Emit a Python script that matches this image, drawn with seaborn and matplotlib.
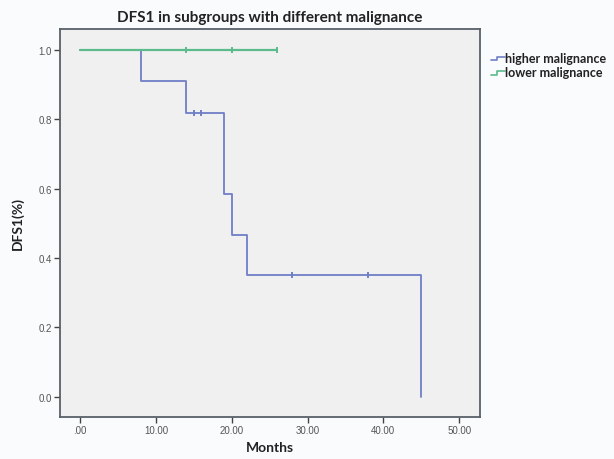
import numpy as np
import pandas as pd
import matplotlib
matplotlib.use("Agg")
import matplotlib.pyplot as plt
import seaborn as sns
from matplotlib.legend_handler import HandlerBase
from matplotlib.lines import Line2D

# ---- data ----
high_time = [0, 8, 14, 19, 20, 22, 45]
high_surv = [1.0, 0.909, 0.818, 0.584, 0.467, 0.350, 0.0]
high_cens_time = [15, 16, 28, 38]
high_cens_surv = [0.818, 0.818, 0.350, 0.350]

low_time = [0, 26]
low_surv = [1.0, 1.0]
low_cens_time = [14, 20, 26]
low_cens_surv = [1.0, 1.0, 1.0]

x_ticks = [0, 10, 20, 30, 40, 50]
x_tick_labels = [".00", "10.00", "20.00", "30.00", "40.00", "50.00"]
y_ticks = [0.0, 0.2, 0.4, 0.6, 0.8, 1.0]
y_tick_labels = ["0.0", "0.2", "0.4", "0.6", "0.8", "1.0"]

groups = ["higher malignance", "lower malignance"]
colors = {"higher malignance": "#6f7fc6", "lower malignance": "#5cba8c"}

sns.set_theme(style="white")
plt.rcParams["font.family"] = ["Lato", "DejaVu Sans"]

fig = plt.figure(figsize=(6.14, 4.6), dpi=100)
fig.patch.set_facecolor("#fafbfd")
ax = fig.add_axes([60 / 614, 1 - 418 / 460, 420 / 614, 388 / 460])
ax.set_facecolor("#f0f0f0")

df_high = pd.DataFrame({"t": high_time, "s": high_surv})
df_low = pd.DataFrame({"t": low_time, "s": low_surv})

sns.lineplot(data=df_high, x="t", y="s", ax=ax, drawstyle="steps-post",
             color=colors["higher malignance"], lw=1.3, estimator=None, sort=False)
sns.lineplot(data=df_low, x="t", y="s", ax=ax, drawstyle="steps-post",
             color=colors["lower malignance"], lw=1.6, estimator=None, sort=False)

sns.scatterplot(x=high_cens_time, y=high_cens_surv, ax=ax, marker="|", s=20,
                color=colors["higher malignance"], linewidth=1.4)
sns.scatterplot(x=low_cens_time, y=low_cens_surv, ax=ax, marker="|", s=20,
                color=colors["lower malignance"], linewidth=1.4)

ax.set_xlim(-2.65, 52.75)
ax.set_ylim(-0.058, 1.06)
ax.set_xticks(x_ticks)
ax.set_xticklabels(x_tick_labels)
ax.set_yticks(y_ticks)
ax.set_yticklabels(y_tick_labels)
ax.tick_params(axis="both", which="both", direction="out", length=4, width=1,
               color="#444444", labelsize=7, labelcolor="#555555", bottom=True, left=True, pad=2)
for lab in ax.get_xticklabels() + ax.get_yticklabels():
    lab.set_family(["Liberation Sans", "DejaVu Sans"])

for sp in ax.spines.values():
    sp.set_visible(True)
    sp.set_color("#5a6068")
    sp.set_linewidth(1.3)

ax.set_xlabel("Months", fontsize=10, fontweight="bold", color="#222222", labelpad=4)
ax.set_ylabel("DFS1(%)", fontsize=10, fontweight="bold", color="#222222", labelpad=10)
ax.set_title("DFS1 in subgroups with different malignance", fontsize=11,
             fontweight="bold", color="#222222", pad=6)


class StepHandler(HandlerBase):
    def create_artists(self, legend, orig_handle, xdescent, ydescent, width, height, fontsize, trans):
        x0 = -xdescent
        y0 = -ydescent
        xs = [x0, x0 + width * 0.45, x0 + width * 0.45, x0 + width]
        ys = [y0 + height * 0.15, y0 + height * 0.15, y0 + height * 0.55, y0 + height * 0.55]
        ln = Line2D(xs, ys, color=orig_handle.get_color(), lw=1.2)
        ln.set_transform(trans)
        return [ln]


handles = [Line2D([], [], color=colors[g]) for g in groups]
leg = fig.legend(handles, groups, loc="upper left", bbox_to_anchor=(482 / 614, 1 - 44 / 460),
                 frameon=False, fontsize=9, handlelength=1.1, handletextpad=0.05,
                 labelspacing=0.2, borderpad=0.2,
                 handler_map={Line2D: StepHandler()})
for t in leg.get_texts():
    t.set_fontweight("bold")
    t.set_color("#222222")

fig.savefig("out.png", dpi=100, facecolor=fig.get_facecolor())
